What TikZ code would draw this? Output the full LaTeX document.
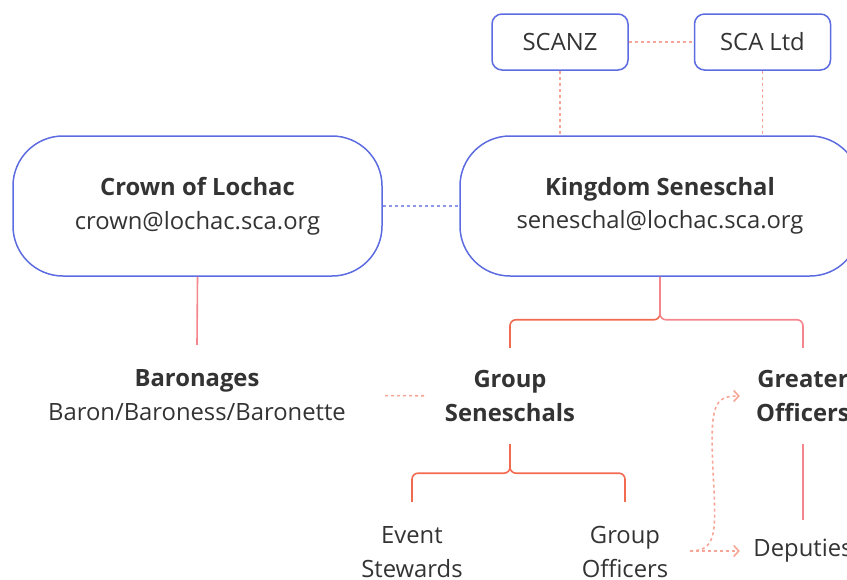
\documentclass[tikz,border=0pt]{standalone}
\usepackage{fontspec}
\setmainfont{Open Sans}
\usetikzlibrary{arrows.meta}
\definecolor{boxblue}{HTML}{5C6BE0}
\definecolor{treered}{HTML}{F26A50}
\definecolor{linkpink}{HTML}{F5868E}
\definecolor{dotsalmon}{HTML}{F7A596}
\definecolor{txt}{HTML}{333333}
\begin{document}
\begin{tikzpicture}[x=1pt,y=-1pt,
  every node/.style={text=txt, font=\fontsize{23.8}{33.5}\selectfont, align=center, inner sep=0pt},
  bigbox/.style={draw=boxblue, line width=1.5pt, rounded corners=50pt, minimum width=369pt, minimum height=140pt},
  smallbox/.style={draw=boxblue, line width=1.5pt, rounded corners=10pt, minimum width=136pt, minimum height=56pt},
  textnode/.style={minimum height=96pt, text width=#1},
  treeline/.style={draw=treered, line width=1.6pt, rounded corners=6pt},
  pinkline/.style={draw=linkpink, line width=1.6pt, rounded corners=6pt},
  dotlink/.style={draw=dotsalmon, line width=1.6pt, dash pattern=on 3pt off 3pt},
  bluedot/.style={draw=boxblue!70, line width=1.5pt, dash pattern=on 3pt off 3pt},
  dotarrow/.style={dotlink, -{Straight Barb[length=5pt,width=11pt,line width=1.6pt]}}
]
\useasboundingbox (0,0) rectangle (847,579);

\node[smallbox] (scanz) at (560,42) {SCANZ};
\node[smallbox] (scaltd) at (762.5,42) {SCA Ltd};
\node[bigbox] (crown) at (197.5,206) {\textbf{Crown of Lochac}\\crown@lochac.sca.org};
\node[bigbox, minimum width=400pt] (kingdom) at (660,206) {\textbf{Kingdom Seneschal}\\seneschal@lochac.sca.org};

\node[textnode=376pt, minimum height=100pt] (baron) at (197,395) {\textbf{Baronages}\\Baron/Baroness/Baronette};
\node[textnode=170pt] (gs) at (510,396) {\textbf{Group}\\\textbf{Seneschals}};
\node[textnode=126pt] (gro) at (803,396) {\textbf{Greater}\\\textbf{Officers}};
\node[textnode=130pt, minimum height=100pt] (es) at (412,552) {Event\\Stewards};
\node[textnode=130pt, minimum height=100pt] (go) at (625,552) {Group\\Officers};
\node[textnode=126pt, minimum height=62pt] (dep) at (803,551) {Deputies};

\draw[dotlink] (scanz) -- (scaltd);
\draw[dotlink] (scanz.south) -- (scanz.south |- kingdom.north);
\draw[dotlink] (scaltd.south) -- (scaltd.south |- kingdom.north);
\draw[bluedot] (crown) -- (kingdom);
\draw[pinkline] (crown.south) -- (baron.north);
\draw[dotlink] (baron) -- (gs);

\draw[treeline] (kingdom.south) -- ++(0,43) -| (gs.north);
\draw[pinkline] (kingdom.south) -- ++(0,43) -| (gro.north);
\draw[treeline] (gs.south) -- ++(0,29) -| (es.north);
\draw[treeline] (gs.south) -- ++(0,29) -| (go.north);
\draw[pinkline] (gro.south) -- (dep.north);

\draw[dotarrow] (go.east |- dep.west) -- (dep.west);
\draw[dotarrow] (go.east |- dep.west) .. controls (718,551) and (716,530) .. (713,470)
  .. controls (710,405) and (714,396) .. (gro.west);
\end{tikzpicture}
\end{document}
